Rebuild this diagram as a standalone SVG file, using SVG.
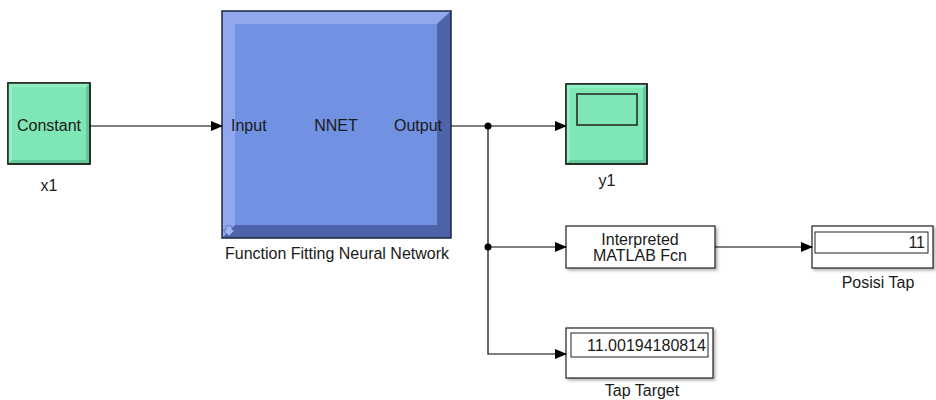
<svg xmlns="http://www.w3.org/2000/svg" width="936" height="400" viewBox="0 0 936 400">
<defs>
<marker id="arr" markerWidth="12" markerHeight="10" refX="11" refY="5" orient="auto" markerUnits="userSpaceOnUse">
<path d="M0,0 L12,5 L0,10 Z" fill="#000"/>
</marker>
<filter id="sh" x="-10%" y="-10%" width="130%" height="140%">
<feDropShadow dx="2" dy="2" stdDeviation="1.5" flood-color="#000" flood-opacity="0.3"/>
</filter>
</defs>
<style>
text{font-family:"Liberation Sans",Arial,sans-serif;font-size:16px;fill:#1a1a1a}
.c{text-anchor:middle}
.r{text-anchor:end}
.wire{fill:none;stroke:#000;stroke-width:1.2}
.box{fill:#fff;stroke:#222;stroke-width:1.2}
</style>
<rect width="936" height="400" fill="#fff"/>

<g id="x1">
<rect x="8" y="83" width="82" height="81" fill="#62c998" stroke="#222" stroke-width="1.5"/>
<polygon points="8,83 90,83 86,87 12,87 12,160 8,164" fill="#8ff0c4"/>
<rect x="12" y="87" width="74" height="73" fill="#7fe6b6"/>
<rect x="8" y="83" width="82" height="81" fill="none" stroke="#222" stroke-width="1.5"/>
<text class="c" x="49" y="131">Constant</text>
<text class="c" x="49" y="191">x1</text>
</g>

<g id="nnet">
<rect x="222" y="11" width="229" height="227" fill="#4e64aa"/>
<polygon points="222,11 451,11 437,24 235,24 235,225 222,238" fill="#90a8ee"/>
<rect x="235" y="24" width="202" height="201" fill="#7192e2"/>
<rect x="222" y="11" width="229" height="227" fill="none" stroke="#1c2440" stroke-width="1.5"/>
<path d="M226,226 h6 v4 h3 l-6,6 l-6,-6 h3 z" fill="#9fb4f0" stroke="#5a6fb0" stroke-width="0.8"/>
<text x="231" y="131" fill="#0e1840">Input</text>
<text class="c" x="336" y="131" fill="#0e1840">NNET</text>
<text class="r" x="442" y="131" fill="#0e1840">Output</text>
<text class="c" x="337" y="259">Function Fitting Neural Network</text>
</g>

<g id="y1">
<rect x="566" y="84" width="81" height="80" fill="#62c998" stroke="#222" stroke-width="1.5"/>
<polygon points="566,84 647,84 643,88 570,88 570,160 566,164" fill="#8ff0c4"/>
<rect x="570" y="88" width="73" height="72" fill="#7fe6b6"/>
<rect x="566" y="84" width="81" height="80" fill="none" stroke="#222" stroke-width="1.5"/>
<rect x="577" y="94" width="60" height="31" fill="none" stroke="#222" stroke-width="1.5"/>
<text class="c" x="607" y="186">y1</text>
</g>

<g id="fcn">
<rect class="box" x="566" y="226" width="149" height="42" filter="url(#sh)"/>
<text class="c" x="640" y="245">Interpreted</text>
<text class="c" x="640" y="261">MATLAB Fcn</text>
</g>

<g id="posisi">
<rect class="box" x="812" y="226" width="121" height="42" filter="url(#sh)"/>
<rect x="815" y="232" width="113" height="21" fill="#fff" stroke="#222" stroke-width="1"/>
<text class="r" x="925" y="248">11</text>
<text class="c" x="878" y="288">Posisi Tap</text>
</g>

<g id="target">
<rect class="box" x="566" y="328" width="147" height="50" filter="url(#sh)"/>
<rect x="571" y="333" width="137" height="24" fill="#fff" stroke="#222" stroke-width="1"/>
<text class="r" x="706" y="351">11.00194180814</text>
<text class="c" x="642" y="396">Tap Target</text>
</g>

<g id="connectors">
<path class="wire" d="M90,126 H222" marker-end="url(#arr)"/>
<path class="wire" d="M451,126 H566" marker-end="url(#arr)"/>
<path class="wire" d="M488,126 V354 H566" marker-end="url(#arr)"/>
<path class="wire" d="M488,247 H566" marker-end="url(#arr)"/>
<path class="wire" d="M715,247 H812" marker-end="url(#arr)"/>
<circle cx="488" cy="126" r="3.5" fill="#000"/>
<circle cx="488" cy="247" r="3.5" fill="#000"/>
</g>
</svg>
